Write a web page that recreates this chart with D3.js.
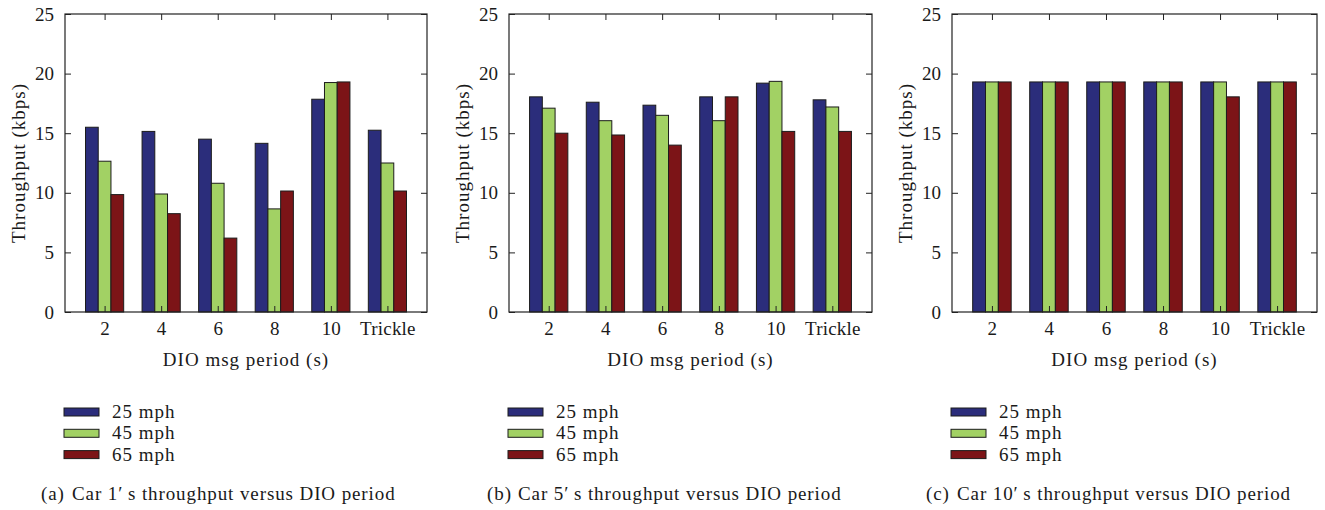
<!DOCTYPE html>
<html>
<head>
<meta charset="utf-8">
<script src="https://cdn.jsdelivr.net/npm/d3@7"></script>
<style>
  body { margin: 0; background: #fff; }
  svg text { font-family: "Liberation Serif", "Times New Roman", serif; fill: #1a1a1a; }
  .wide { letter-spacing: 1px; }
  .cap { letter-spacing: 0.9px; }
</style>
</head>
<body>
<div id="chart"></div>
<script>
// categories and series
var categories = ["2", "4", "6", "8", "10", "Trickle"];
var speeds = ["25 mph", "45 mph", "65 mph"];
var colors = ["#2b2d7b", "#a2d164", "#7c1417"];
var yTicks = [0, 5, 10, 15, 20, 25];

// car 1
var car1Mph25 = [15.5, 15.15, 14.5, 14.15, 17.85, 15.25];
var car1Mph45 = [12.65, 9.9, 10.8, 8.65, 19.25, 12.5];
var car1Mph65 = [9.85, 8.25, 6.2, 10.15, 19.3, 10.15];

// car 5
var car5Mph25 = [18.05, 17.6, 17.35, 18.05, 19.2, 17.8];
var car5Mph45 = [17.1, 16.05, 16.5, 16.05, 19.35, 17.2];
var car5Mph65 = [15.0, 14.85, 14.0, 18.05, 15.15, 15.15];

// car 10
var car10Mph25 = [19.3, 19.3, 19.3, 19.3, 19.3, 19.3];
var car10Mph45 = [19.3, 19.3, 19.3, 19.3, 19.3, 19.3];
var car10Mph65 = [19.3, 19.3, 19.3, 19.3, 18.05, 19.3];

var panels = [
	{left: 65,  right: 427,  tag: "(a)", caption: "Car 1\u2032\u2009s throughput versus DIO period",  capX: 72,  series: [car1Mph25, car1Mph45, car1Mph65]},
	{left: 509, right: 872,  tag: "(b)", caption: "Car 5\u2032\u2009s throughput versus DIO period",  capX: 518, series: [car5Mph25, car5Mph45, car5Mph65]},
	{left: 952, right: 1317, tag: "(c)", caption: "Car 10\u2032\u2009s throughput versus DIO period", capX: 957, series: [car10Mph25, car10Mph45, car10Mph65]}
];

var width = 1325, height = 510,
	plotTop = 14, plotBottom = 312,
	barW = 0.225;

var svg = d3.select("#chart").append("svg")
	.attr("width", width)
	.attr("height", height);

panels.forEach(function(p) {
	var x = d3.scaleLinear().domain([-0.7, categories.length - 0.3]).range([p.left, p.right]);
	var y = d3.scaleLinear().domain([0, 25]).range([plotBottom, plotTop]);

	var g = svg.append("g");

	// bars
	p.series.forEach(function(vals, j) {
		g.selectAll(".bar" + j)
			.data(vals)
		  .enter().append("rect")
			.attr("class", "bar" + j)
			.attr("x", function(d, i) { return x(i + (j - 1.5) * barW); })
			.attr("y", function(d) { return y(d); })
			.attr("width", x(barW) - x(0))
			.attr("height", function(d) { return y(0) - y(d); })
			.attr("fill", colors[j])
			.attr("stroke", "#1c1c1c")
			.attr("stroke-width", 1);
	});

	// axes
	var idx = d3.range(categories.length);
	g.append("g")
		.attr("transform", "translate(0," + plotBottom + ")")
		.call(d3.axisBottom(x).tickValues(idx).tickFormat(function(d) { return categories[d]; })
			.tickSizeInner(-6).tickSizeOuter(0).tickPadding(10))
		.call(function(a) { a.select(".domain").remove(); })
		.selectAll("text").attr("font-size", 19).attr("font-family", null).attr("letter-spacing", "0.2px");

	g.append("g")
		.attr("transform", "translate(0," + plotTop + ")")
		.call(d3.axisTop(x).tickValues(idx).tickFormat("").tickSizeInner(-6).tickSizeOuter(0))
		.call(function(a) { a.select(".domain").remove(); });

	g.append("g")
		.attr("transform", "translate(" + p.left + ",0)")
		.call(d3.axisLeft(y).tickValues(yTicks).tickSizeInner(-6).tickSizeOuter(0).tickPadding(11))
		.call(function(a) { a.select(".domain").remove(); })
		.selectAll("text").attr("font-size", 19).attr("font-family", null);

	g.append("g")
		.attr("transform", "translate(" + p.right + ",0)")
		.call(d3.axisRight(y).tickValues(yTicks).tickFormat("").tickSizeInner(-6).tickSizeOuter(0))
		.call(function(a) { a.select(".domain").remove(); });

	g.selectAll(".tick line").attr("stroke", "#222");

	// frame
	g.append("rect")
		.attr("x", p.left).attr("y", plotTop)
		.attr("width", p.right - p.left).attr("height", plotBottom - plotTop)
		.attr("fill", "none").attr("stroke", "#222").attr("stroke-width", 1.2);

	// axis titles
	g.append("text")
		.attr("class", "wide")
		.attr("x", (p.left + p.right) / 2).attr("y", 366)
		.attr("text-anchor", "middle").attr("font-size", 19)
		.text("DIO msg period (s)");

	g.append("text")
		.attr("class", "wide")
		.attr("transform", "translate(" + (p.left - 40) + "," + ((plotTop + plotBottom) / 2) + ") rotate(-90)")
		.attr("text-anchor", "middle").attr("font-size", 19)
		.text("Throughput (kbps)");

	// legend
	var lg = g.append("g").attr("transform", "translate(" + (p.left - 1) + ",408)");
	speeds.forEach(function(s, j) {
		lg.append("rect")
			.attr("x", 0).attr("y", j * 21.3)
			.attr("width", 35).attr("height", 8)
			.attr("fill", colors[j]).attr("stroke", "#1c1c1c");
		lg.append("text")
			.attr("class", "wide")
			.attr("x", 48).attr("y", j * 21.3 + 10)
			.attr("font-size", 19)
			.text(s);
	});

	// caption
	g.append("text")
		.attr("class", "cap")
		.attr("x", p.capX - 31).attr("y", 500)
		.attr("font-size", 19)
		.text(p.tag);
	g.append("text")
		.attr("class", "cap")
		.attr("x", p.capX).attr("y", 500)
		.attr("font-size", 19)
		.text(p.caption);
});
</script>
</body>
</html>
